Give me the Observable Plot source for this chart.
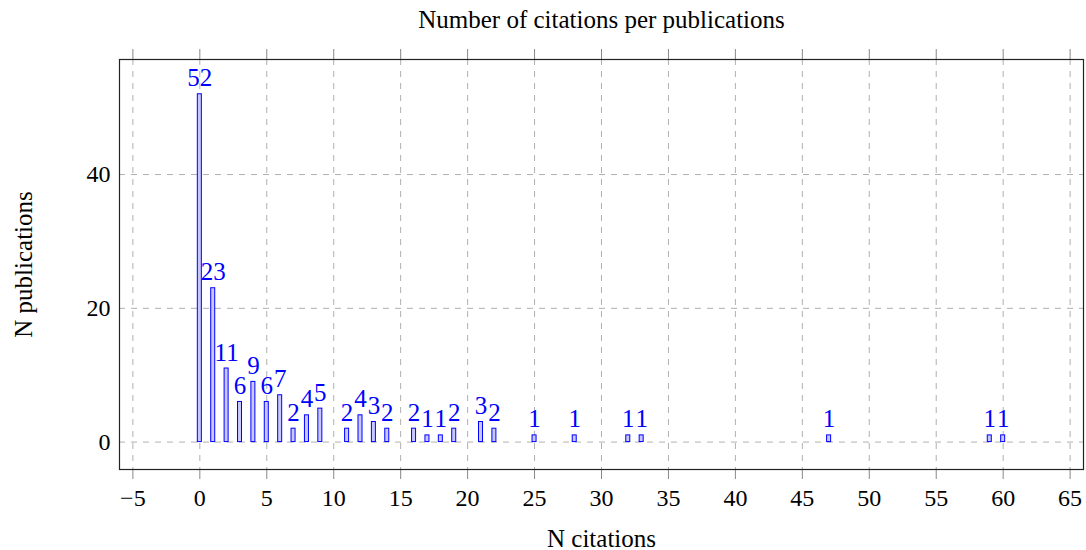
<!DOCTYPE html>
<html>
<head>
<meta charset="utf-8">
<script src="https://cdn.jsdelivr.net/npm/d3@7"></script>
<script src="https://cdn.jsdelivr.net/npm/@observablehq/plot@0.6"></script>
<style>
  html, body { margin: 0; padding: 0; background: #fff; }
  svg { display: block; }
</style>
</head>
<body>
<div id="chart"></div>
<script>
const citations = [0, 1, 2, 3, 4, 5, 6, 7, 8, 9, 11, 12, 13, 14, 16, 17, 18, 19, 21, 22, 25, 28, 32, 33, 47, 59, 60];
const publications = [52, 23, 11, 6, 9, 6, 7, 2, 4, 5, 2, 4, 3, 2, 2, 1, 1, 2, 3, 2, 1, 1, 1, 1, 1, 1, 1];
const xTicks = [-5, 0, 5, 10, 15, 20, 25, 30, 35, 40, 45, 50, 55, 60, 65];
const yTicks = [0, 20, 40];
const title = "Number of citations per publications";
const xLabel = "N citations";
const yLabel = "N publications";

const data = citations.map((c, i) => ({c, n: publications[i]}));
const font = "'Liberation Serif', 'DejaVu Serif', serif";
const halfWidth = 0.15;

const chart = Plot.plot({
  width: 1086,
  height: 550,
  marginLeft: 119,
  marginRight: 3,
  marginTop: 59,
  marginBottom: 81,
  style: {fontFamily: font, fontSize: "24px", color: "#000", background: "#fff"},
  x: {domain: [-6, 66], ticks: xTicks},
  y: {domain: [-4.1, 57.2], ticks: yTicks},
  marks: [
    Plot.gridX(xTicks, {stroke: "#b0b0b0", strokeOpacity: 1, strokeDasharray: "6,6", strokeWidth: 1}),
    Plot.gridY(yTicks, {stroke: "#b0b0b0", strokeOpacity: 1, strokeDasharray: "6,6", strokeWidth: 1}),
    Plot.axisX(xTicks, {anchor: "bottom", tickSize: 10, tickPadding: 9, stroke: "#888", fontSize: 24, label: null, tickFormat: d => d < 0 ? "\u2212" + Math.abs(d) : String(d)}),
    Plot.axisX(xTicks, {anchor: "top", tickSize: 11, stroke: "#888", label: null, tickFormat: () => ""}),
    Plot.axisY(yTicks, {anchor: "left", tickSize: 0, tickPadding: 9, fontSize: 24, label: null}),
    Plot.rectY(data, {
      x1: d => d.c - halfWidth,
      x2: d => d.c + halfWidth,
      y1: 0,
      y2: "n",
      fill: "#c8c8ff",
      stroke: "#0000ff",
      strokeWidth: 1
    }),
    Plot.text(data, {
      x: "c",
      y: "n",
      text: d => String(d.n),
      lineAnchor: "bottom",
      dy: -8,
      fill: "#0000ff",
      fontSize: 25
    }),
    Plot.frame({stroke: "#222", strokeWidth: 1.2}),
    Plot.text([title], {frameAnchor: "top", dy: -40, lineAnchor: "middle", textAnchor: "middle", fontSize: 25, fill: "#000"}),
    Plot.text([xLabel], {frameAnchor: "bottom", dy: 69, lineAnchor: "middle", textAnchor: "middle", fontSize: 25, fill: "#000"}),
    Plot.text([yLabel], {frameAnchor: "left", dx: -96, rotate: -90, lineAnchor: "middle", textAnchor: "middle", fontSize: 25, fill: "#000"})
  ]
});
document.getElementById("chart").append(chart);
</script>
</body>
</html>
